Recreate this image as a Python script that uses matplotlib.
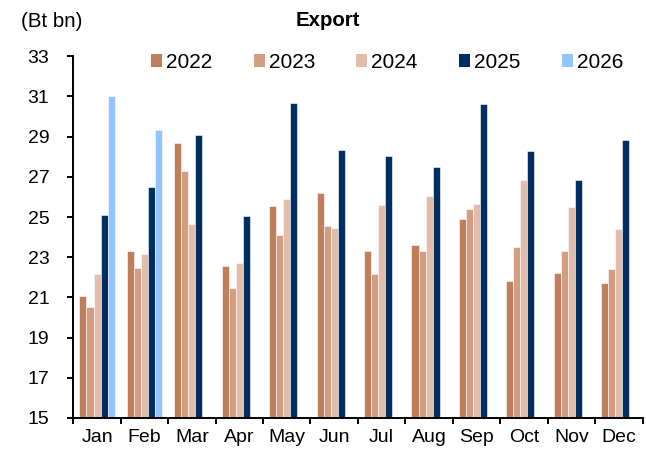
import numpy as np
import matplotlib
matplotlib.use("Agg")
from matplotlib import pyplot as plt
from matplotlib.patches import Patch

plt.rcParams['font.family'] = ['Liberation Sans', 'DejaVu Sans']

months = ['Jan', 'Feb', 'Mar', 'Apr', 'May', 'Jun', 'Jul', 'Aug', 'Sep', 'Oct', 'Nov', 'Dec']
years = ['2022', '2023', '2024', '2025', '2026']

exp_2022 = [21.07, 23.33, 28.67, 22.58, 25.56, 26.21, 23.29, 23.59, 24.90, 21.80, 22.20, 21.70]
exp_2023 = [20.52, 22.45, 27.29, 21.47, 24.10, 24.54, 22.15, 23.31, 25.38, 23.52, 23.31, 22.41]
exp_2024 = [22.15, 23.14, 24.64, 22.73, 25.91, 24.44, 25.58, 26.03, 25.66, 26.86, 25.48, 24.39]
exp_2025 = [25.12, 26.49, 29.08, 25.03, 30.69, 28.35, 28.05, 27.47, 30.62, 28.30, 26.86, 28.81]
exp_2026 = [31.02, 29.31]

series = [exp_2022, exp_2023, exp_2024, exp_2025, exp_2026]
colors = ['#C07F5A', '#D29D80', '#E2BDAA', '#002D62', '#93C4FF']

fig = plt.figure(figsize=(6.46, 4.55), dpi=100)
ax = fig.add_axes([73.3 / 646, 37 / 455, 569.2 / 646, 361.7 / 455])

w = 0.148
x = np.arange(len(months))
for k, vals in enumerate(series):
    xs = x[:len(vals)] + (k - 2) * w
    ax.bar(xs, np.array(vals) - 15, width=w, bottom=15, color=colors[k],
           edgecolor='white', linewidth=0.4, zorder=2)

ax.set_xlim(-0.5, 11.5)
ax.set_ylim(15, 33)
ax.set_yticks(np.arange(15, 34, 2))
ax.set_xticks(np.arange(-0.5, 12, 1))
ax.set_xticklabels([])
ax.set_xticks(x, minor=True)
ax.set_xticklabels(months, minor=True)
ax.tick_params(axis='x', which='minor', length=0, labelsize=14, pad=8)
ax.tick_params(axis='x', which='major', length=4.3, width=1.4, direction='out')
ax.tick_params(axis='y', length=4.3, width=1.4, direction='out', labelsize=14, pad=13)

for s in ['top', 'right']:
    ax.spines[s].set_visible(False)
for s in ['left', 'bottom']:
    ax.spines[s].set_linewidth(1.4)

handles = [Patch(facecolor=c, edgecolor='none') for c in colors]
fig.legend(handles, years, loc='center', bbox_to_anchor=(387 / 646, 1 - 62.5 / 455),
           ncol=5, frameon=False, fontsize=15, handlelength=0.53, handleheight=0.53,
           handletextpad=0.19, columnspacing=1.98, borderpad=0)

fig.text(328 / 646, 1 - 26.5 / 455, 'Export', ha='center', va='baseline',
         fontsize=14.7, fontweight='bold')
fig.text(21 / 646, 1 - 27 / 455, '(Bt bn)', ha='left', va='baseline', fontsize=14.8)

fig.savefig('out.png', dpi=100)
